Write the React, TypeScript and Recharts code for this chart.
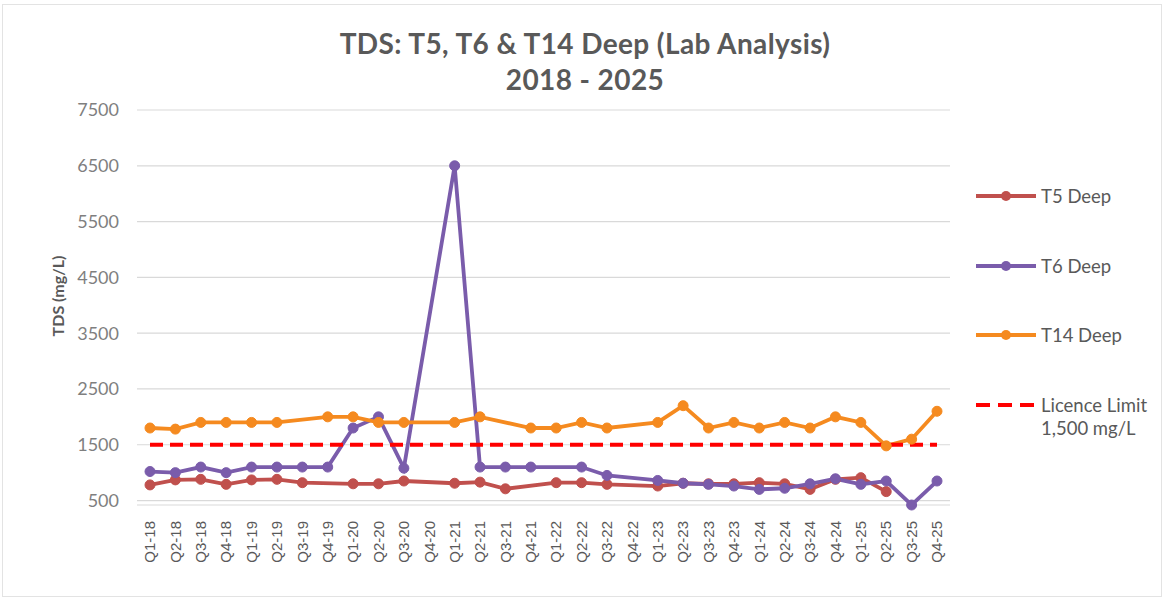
import React from 'react';
import { LineChart, Line, XAxis, YAxis, CartesianGrid } from 'recharts';

const quarters = [
  'Q1-18', 'Q2-18', 'Q3-18', 'Q4-18', 'Q1-19', 'Q2-19', 'Q3-19', 'Q4-19',
  'Q1-20', 'Q2-20', 'Q3-20', 'Q4-20', 'Q1-21', 'Q2-21', 'Q3-21', 'Q4-21',
  'Q1-22', 'Q2-22', 'Q3-22', 'Q4-22', 'Q1-23', 'Q2-23', 'Q3-23', 'Q4-23',
  'Q1-24', 'Q2-24', 'Q3-24', 'Q4-24', 'Q1-25', 'Q2-25', 'Q3-25', 'Q4-25',
];

// gaps (null) are quarters with no sample; Excel joins across them
const t5Deep = [
  780, 870, 880, 790, 870, 880, 820, null,
  800, 800, 850, null, 810, 830, 710, null,
  820, 820, 790, null, 760, 810, 800, 800,
  820, 800, 700, 880, 910, 660, null, null,
];
const t6Deep = [
  1020, 1000, 1100, 1000, 1100, 1100, 1100, 1100,
  1800, 2000, 1080, null, 6500, 1100, 1100, 1100,
  null, 1100, 950, null, 860, 810, 790, 760,
  700, 720, 800, 890, 790, 850, 420, 850,
];
const t14Deep = [
  1800, 1780, 1900, 1900, 1900, 1900, null, 2000,
  2000, 1900, 1900, null, 1900, 2000, null, 1800,
  1800, 1900, 1800, null, 1900, 2200, 1800, 1900,
  1800, 1900, 1800, 2000, 1900, 1480, 1600, 2100,
];
const licenceLimit = [
  1500, 1500, 1500, 1500, 1500, 1500, 1500, 1500,
  1500, 1500, 1500, 1500, 1500, 1500, 1500, 1500,
  1500, 1500, 1500, 1500, 1500, 1500, 1500, 1500,
  1500, 1500, 1500, 1500, 1500, 1500, 1500, 1500,
];
const yTicks = [500, 1500, 2500, 3500, 4500, 5500, 6500, 7500];

const data = quarters.map((q, i) => ({
  quarter: q,
  t5: t5Deep[i],
  t6: t6Deep[i],
  t14: t14Deep[i],
  limit: licenceLimit[i],
}));

const RED = '#C0504D';
const PURPLE = '#7A5CAB';
const ORANGE = '#F58A1F';
const LIMIT = '#FF0000';
const TEXT = '#595959';
const FONT = 'Lato, "Open Sans", sans-serif';

const dot = (color: string) => ({ r: 5, fill: color, stroke: color, strokeWidth: 1 });

const QuarterTick = ({ x, y, payload }: { x?: number; y?: number; payload?: { value: string } }) => (
  <g transform={`translate(${x},${(y ?? 0) + 8})`}>
    <text
      transform="rotate(-90)"
      textAnchor="end"
      dy="0.35em"
      fill={TEXT}
      fontSize={15}
      fontFamily='"Liberation Sans", Arial, sans-serif'
    >
      {payload?.value}
    </text>
  </g>
);

const legendItems = [
  { name: 'T5 Deep', color: RED, top: 196 },
  { name: 'T6 Deep', color: PURPLE, top: 266 },
  { name: 'T14 Deep', color: ORANGE, top: 335 },
];

export default function App() {
  return (
    <div style={{ position: 'absolute', left: 0, top: 0, width: 1170, height: 599, background: '#fff', fontFamily: FONT }}>
      <div style={{ position: 'absolute', left: 2, top: 4, width: 1158, height: 591, border: '1px solid #e3e3e3' }} />
      <div
        style={{
          position: 'absolute', left: 0, top: 25, width: 1170, textAlign: 'center',
          fontSize: 28, fontWeight: 700, color: TEXT, lineHeight: '36px', letterSpacing: 0.4,
        }}
      >
        TDS: T5, T6 &amp; T14 Deep (Lab Analysis)
        <br />
        2018 - 2025
      </div>
      <div
        style={{
          position: 'absolute', left: 57, top: 296, transform: 'translate(-50%, -50%) rotate(-90deg)',
          fontSize: 16, fontWeight: 700, color: TEXT, whiteSpace: 'nowrap',
        }}
      >
        TDS (mg/L)
      </div>

      <LineChart width={1170} height={599} data={data} margin={{ top: 110, right: 220, bottom: 0, left: 0 }} style={{ position: 'absolute', left: 0, top: 0 }}>
        <CartesianGrid vertical={false} stroke="#d9d9d9" strokeWidth={1.2} />
        <XAxis
          dataKey="quarter"
          interval={0}
          height={94}
          padding={{ left: 13, right: 13 }}
          tickLine={false}
          axisLine={false}
          tick={<QuarterTick />}
        />
        <YAxis
          width={137}
          domain={[500, 7500]}
          ticks={yTicks}
          tickLine={false}
          axisLine={false}
          tickSize={0}
          tickMargin={18}
          tick={{ fill: '#7f7f7f', fontSize: 18, fontFamily: FONT }}
        />
        <Line type="linear" dataKey="t5" stroke={RED} strokeWidth={3.8} dot={dot(RED)} activeDot={false} connectNulls isAnimationActive={false} />
        <Line type="linear" dataKey="t6" stroke={PURPLE} strokeWidth={3.8} dot={dot(PURPLE)} activeDot={false} connectNulls isAnimationActive={false} />
        <Line type="linear" dataKey="t14" stroke={ORANGE} strokeWidth={3.8} dot={dot(ORANGE)} activeDot={false} connectNulls isAnimationActive={false} />
        <Line type="linear" dataKey="limit" stroke={LIMIT} strokeWidth={4.2} strokeDasharray="13 7" dot={false} activeDot={false} isAnimationActive={false} />
      </LineChart>

      {legendItems.map((item) => (
        <div key={item.name} style={{ position: 'absolute', left: 975, top: item.top - 10, height: 20, display: 'flex', alignItems: 'center' }}>
          <svg width={62} height={20}>
            <line x1={1} y1={10} x2={61} y2={10} stroke={item.color} strokeWidth={4} />
            <circle cx={31} cy={10} r={5} fill={item.color} />
          </svg>
          <span style={{ marginLeft: 4, fontSize: 18.5, color: TEXT }}>{item.name}</span>
        </div>
      ))}
      <div style={{ position: 'absolute', left: 975, top: 395, display: 'flex', alignItems: 'flex-start' }}>
        <svg width={62} height={20}>
          <line x1={1} y1={10} x2={61} y2={10} stroke={LIMIT} strokeWidth={4.2} strokeDasharray="14 8" />
        </svg>
        <span style={{ marginLeft: 4, fontSize: 18.5, color: TEXT, lineHeight: '23px', marginTop: -1 }}>
          Licence Limit
          <br />
          1,500 mg/L
        </span>
      </div>
    </div>
  );
}
